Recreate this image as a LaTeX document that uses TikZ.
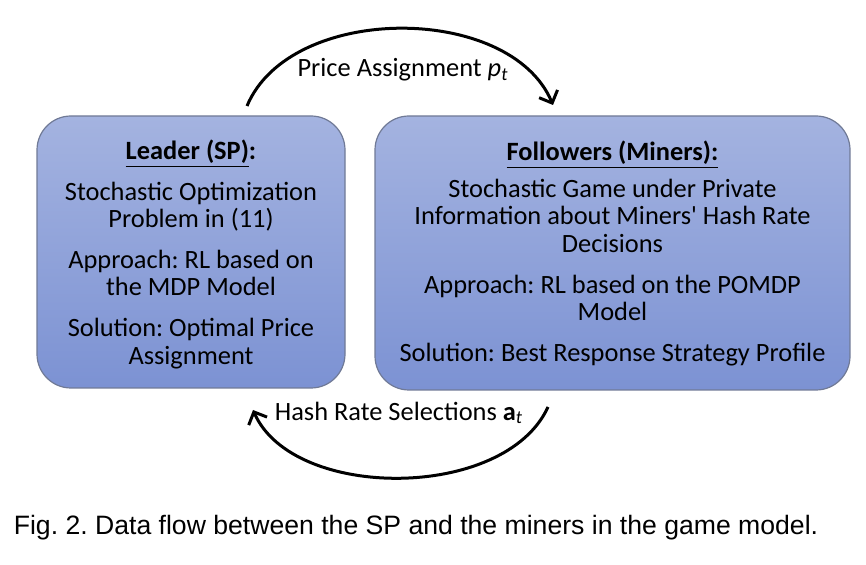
\documentclass[tikz,border=0pt]{standalone}
\usepackage{fontspec}
\setmainfont{Carlito}
\newfontfamily\capfont{Liberation Sans}
\usetikzlibrary{positioning, arrows.meta}
\frenchspacing

\definecolor{boxtop}{RGB}{164,179,224}
\definecolor{boxbot}{RGB}{124,146,211}
\definecolor{boxedge}{RGB}{112,122,150}

\tikzset{
	gamebox/.style={draw=boxedge, line width=0.6pt, rounded corners=17pt,
		top color=boxtop, bottom color=boxbot},
	boxtext/.style={align=center, inner sep=0pt,
		font=\fontsize{13.2}{13.6}\selectfont},
	flowlabel/.style={fill=white, inner sep=0.5pt,
		font=\fontsize{13.2}{13.6}\selectfont},
	flow/.style={->, line width=1.5pt},
}

\begin{document}
\begin{tikzpicture}[x=0.5pt, y=-0.5pt,
		>={Straight Barb[length=5pt, width=10pt, line width=1.5pt]}]
	\useasboundingbox (0,0) rectangle (866,565);

	% the two players
	\node[gamebox, minimum width=154pt, minimum height=136pt]
		(leader) at (191,252) {};
	\node[gamebox, minimum width=237.5pt, minimum height=137pt]
		(followers) at (612.5,253) {};

	\node[boxtext] (leader-text) at (191,254.5) {%
		\underline{\textbf{Leader (SP)}}\textbf{:}\\[6.5pt]
		Stochastic Optimization\\
		Problem in (11)\\[7pt]
		Approach: RL based on\\
		the MDP Model\\[7pt]
		Solution: Optimal Price\\
		Assignment};

	\node[boxtext] (followers-text) at (612.5,253.5) {%
		\underline{\textbf{Followers (Miners):}}\\[5pt]
		Stochastic Game under Private\\
		Information about Miners\textquotesingle{} Hash Rate\\
		Decisions\\[7pt]
		Approach: RL based on the POMDP\\
		Model\\[7pt]
		Solution: Best Response Strategy Profile};

	% data flow
	\coordinate (price-start) at (247,106);
	\coordinate (price-end) at (553,105);
	\coordinate (hash-start) at (548,407);
	\coordinate (hash-end) at (253,410);

	\draw[flow] (price-start) .. controls (290,3) and (510,3) .. (price-end);
	\draw[flow] (hash-start) .. controls (505,501) and (293,501) .. (hash-end);

	\node[flowlabel] (price-label) at (403,70)
		{Price Assignment \textit{p\textsubscript{t}}};
	\node[flowlabel] (hash-label) at (399,413)
		{Hash Rate Selections \textbf{a}\textsubscript{\textit{t}}};

	\node (caption) at (416,528)
		{\capfont\fontsize{13.3}{15}\selectfont Fig. 2. Data flow between the SP and the miners in the game model.};
\end{tikzpicture}
\end{document}
